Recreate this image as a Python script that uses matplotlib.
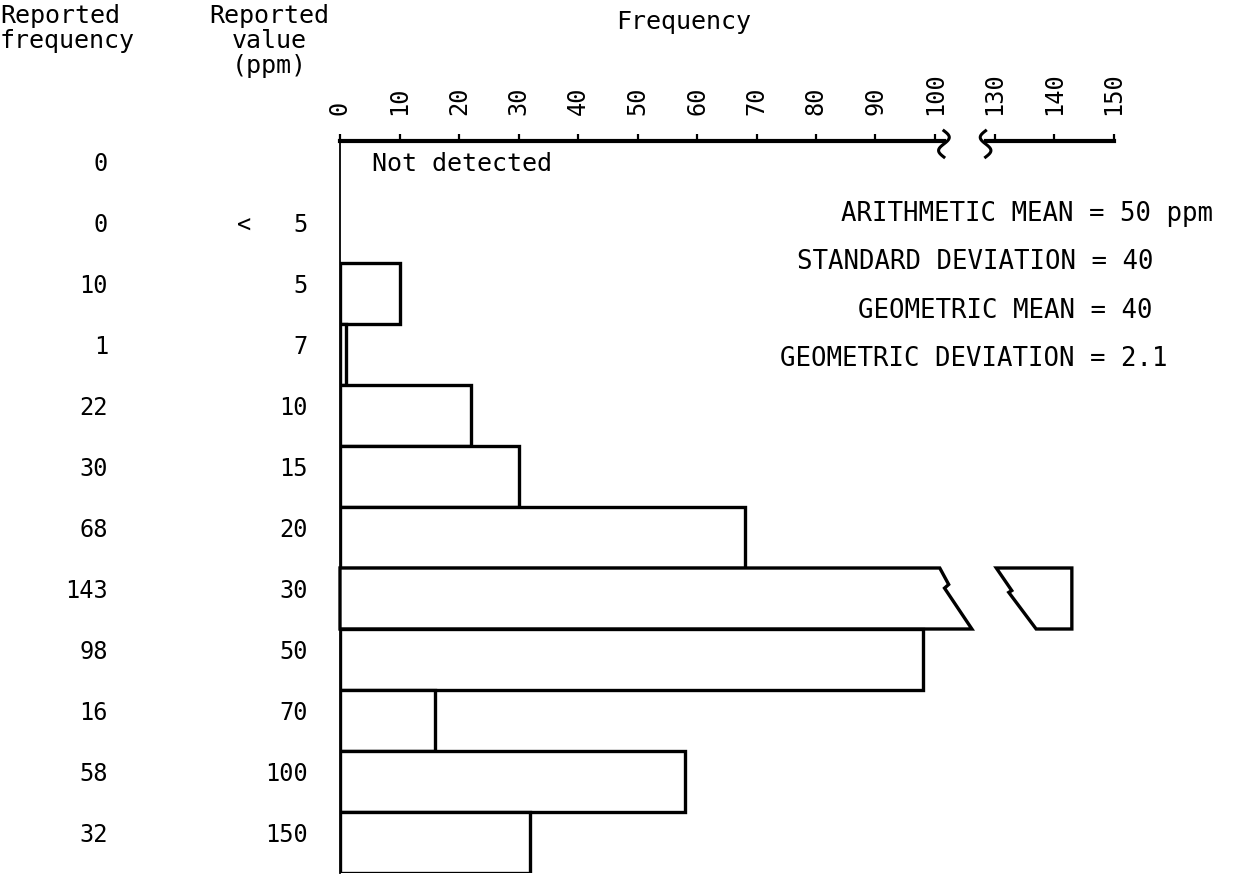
import numpy as np
import matplotlib
matplotlib.use("Agg")
import matplotlib.pyplot as plt
from matplotlib.patches import Polygon
from matplotlib.transforms import blended_transform_factory

plt.rcParams['font.family'] = ['DejaVu Sans Mono', 'DejaVu Sans']

# ---------------- data ----------------
reported_freq = [0, 0, 10, 1, 22, 30, 68, 143, 98, 16, 58, 32]
reported_value = ["", "<   5", "5", "7", "10", "15", "20", "30", "50", "70", "100", "150"]
left_ticks = [0, 10, 20, 30, 40, 50, 60, 70, 80, 90, 100]
right_ticks = [130, 140, 150]
stats_lines = ["ARITHMETIC MEAN = 50 ppm",
               "STANDARD DEVIATION = 40",
               "GEOMETRIC MEAN = 40",
               "GEOMETRIC DEVIATION = 2.1"]

# ---------------- layout ----------------
W, H = 1242, 874
fig = plt.figure(figsize=(W / 100, H / 100), dpi=100)
s = 5.95                      # px per frequency unit
x0 = 340                      # px of zero
top_px, bot_px = 141, 873
left_lim = (0, 107)
right_lim = (127, 151)
lw_px = (left_lim[1] - left_lim[0]) * s
rw_px = (right_lim[1] - right_lim[0]) * s
rx0 = x0 + lw_px

def fx(px):
    return px / W

def fy(py):
    return 1 - py / H

axL = fig.add_axes([fx(x0), fy(bot_px), lw_px / W, (bot_px - top_px) / H])
axR = fig.add_axes([fx(rx0), fy(bot_px), rw_px / W, (bot_px - top_px) / H], sharey=axL)

n = len(reported_freq)
rows = np.arange(n)
break_lo, break_hi = 101.5, 128.5

for ax, lim, ticks in ((axL, left_lim, left_ticks), (axR, right_lim, right_ticks)):
    ax.set_xlim(*lim)
    ax.set_ylim(n - 0.5, -0.5)
    ax.xaxis.tick_top()
    ax.set_xticks(ticks)
    ax.set_xticklabels([str(t) for t in ticks])
    ax.tick_params(axis='x', direction='out', length=5, width=1.6, pad=14,
                   labelsize=17, labelrotation=90, colors='black')
    ax.tick_params(axis='y', left=False, labelleft=False, right=False)
    for sp in ('right', 'bottom'):
        ax.spines[sp].set_visible(False)
    ax.spines['top'].set_linewidth(3)
    ax.patch.set_alpha(0)

axL.spines['left'].set_linewidth(1.3)
axL.spines['top'].set_bounds(0, break_lo)
axR.spines['left'].set_visible(False)
axR.spines['top'].set_bounds(break_hi, 150)

# break squiggles on the axis line
t = np.linspace(0, 1, 30)
for ax, xb, sgn in ((axL, break_lo, 1), (axR, break_hi, -1)):
    tr = blended_transform_factory(ax.transData, ax.transAxes)
    ax.plot(xb + sgn * 0.9 * np.sin(2 * np.pi * t), 1.014 - 0.036 * t,
            color='black', lw=2.2, transform=tr, clip_on=False)

# ---------------- bars ----------------
edge = dict(facecolor='white', edgecolor='black', linewidth=2.4, joinstyle='miter')
for r, v in zip(rows, reported_freq):
    if v == 0:
        continue
    if v <= break_lo:
        axL.barh(r, v, height=1.0, left=0, **edge)
    else:
        top, bot = r - 0.5, r + 0.5
        # left fragment with slanted break edge
        polyL = [(0, top), (100.8, top), (102.3, top + 0.27), (101.6, top + 0.33),
                 (106.2, bot), (0, bot)]
        axL.add_patch(Polygon(polyL, closed=True, clip_on=False, **edge))
        # right fragment
        polyR = [(130.3, top), (v, top), (v, bot), (137.0, bot),
                 (132.4, top + 0.4), (132.9, top + 0.37)]
        axR.add_patch(Polygon(polyR, closed=True, clip_on=False, **edge))

axL.text(5.4, -0.12, "Not detected", fontsize=18, va='center', ha='left')

# ---------------- stats ----------------
stat_pos = [(1027, 214), (975, 262), (1005, 311), (974, 359)]
for txt, (px, py) in zip(stats_lines, stat_pos):
    fig.text(fx(px), fy(py), txt, fontsize=18.5, ha='center', va='center')

# ---------------- left columns ----------------
ytr = blended_transform_factory(fig.transFigure, axL.transData)
for r, v, lab in zip(rows, reported_freq, reported_value):
    yy = r - 0.12
    fig.text(fx(108), yy, str(v), transform=ytr, fontsize=17, ha='right', va='center')
    if lab:
        fig.text(fx(308), yy, lab, transform=ytr, fontsize=17, ha='right', va='center')

# ---------------- headers ----------------
fig.text(fx(0), fy(4), "Reported\nfrequency", fontsize=18, ha='left', va='top',
         linespacing=1.05)
fig.text(fx(269), fy(4), "Reported\nvalue\n(ppm)", fontsize=18, ha='center', va='top',
         linespacing=1.05, multialignment='center')
fig.text(fx(684), fy(22), "Frequency", fontsize=18, ha='center', va='center')

fig.savefig("out.png", dpi=100, facecolor='white')
